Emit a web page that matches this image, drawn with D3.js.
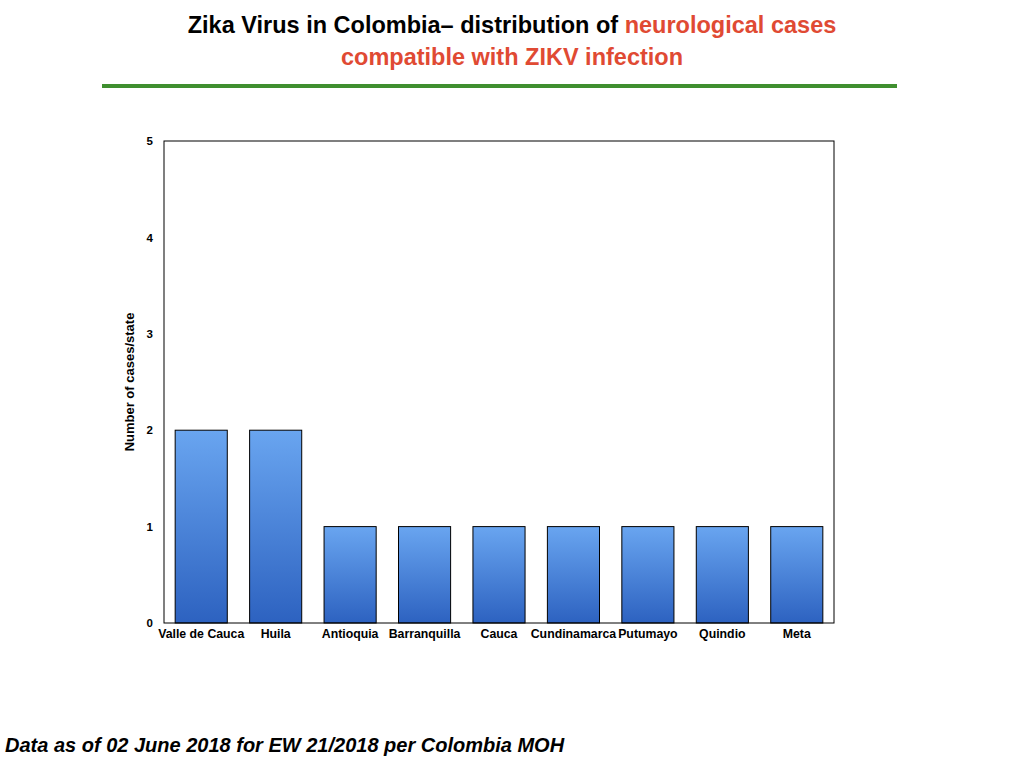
<!DOCTYPE html>
<html>
<head>
<meta charset="utf-8">
<script src="https://cdn.jsdelivr.net/npm/d3@7"></script>
<style>
  body { margin: 0; background: #fff; }
  text { font-family: "Liberation Sans", Arial, sans-serif; }
</style>
</head>
<body>
<script>
const states = [
  "Valle de Cauca", "Huila", "Antioquia", "Barranquilla", "Cauca",
  "Cundinamarca", "Putumayo", "Quindio", "Meta"
];
const cases = [2, 2, 1, 1, 1, 1, 1, 1, 1];
const yTicks = [0, 1, 2, 3, 4, 5];

const baseWidth = 1024,
  baseHeight = 768;
const margin = { top: 141, right: 190, bottom: 145, left: 164 };
const width = baseWidth - margin.left - margin.right;
const height = baseHeight - margin.top - margin.bottom;

const svg = d3
  .select("body")
  .append("svg")
  .attr("width", baseWidth)
  .attr("height", baseHeight);

const defs = svg.append("defs");
const grad = defs
  .append("linearGradient")
  .attr("id", "barGrad")
  .attr("x1", 0).attr("y1", 0)
  .attr("x2", 0).attr("y2", 1);
grad.append("stop").attr("offset", "0%").attr("stop-color", "#69a5f0");
grad.append("stop").attr("offset", "100%").attr("stop-color", "#2d62c0");

// Title
const title = svg
  .append("text")
  .attr("x", baseWidth / 2)
  .attr("text-anchor", "middle")
  .style("font-size", "23.5px")
  .style("font-weight", "bold");
const line1 = title.append("tspan").attr("x", baseWidth / 2).attr("y", 33);
line1.append("tspan").attr("fill", "#000").text("Zika Virus in Colombia\u2013  distribution of ");
line1.append("tspan").attr("fill", "#e04a33").text("neurological cases");
title
  .append("tspan")
  .attr("x", baseWidth / 2)
  .attr("y", 65)
  .attr("fill", "#e04a33")
  .text("compatible with ZIKV infection");

svg
  .append("line")
  .attr("x1", 102)
  .attr("x2", 897)
  .attr("y1", 86)
  .attr("y2", 86)
  .attr("stroke", "#3f8f2f")
  .attr("stroke-width", 4);

const chart = svg
  .append("g")
  .attr("transform", "translate(" + margin.left + "," + margin.top + ")");

const x = d3
  .scaleBand()
  .domain(states)
  .range([0, width])
  .paddingInner(0.3)
  .paddingOuter(0.15);

const y = d3.scaleLinear().domain([0, 5]).range([height, 0]);

// Bars
chart
  .selectAll("rect.bar")
  .data(states)
  .enter()
  .append("rect")
  .attr("class", "bar")
  .attr("x", (d) => x(d))
  .attr("y", (d, i) => y(cases[i]))
  .attr("width", x.bandwidth())
  .attr("height", (d, i) => height - y(cases[i]))
  .attr("fill", "url(#barGrad)")
  .attr("stroke", "#000")
  .attr("stroke-width", 1);

// Frame
chart
  .append("rect")
  .attr("width", width)
  .attr("height", height)
  .attr("fill", "none")
  .attr("stroke", "#000")
  .attr("stroke-width", 1);

const yAxis = chart
  .append("g")
  .call(d3.axisLeft(y).tickValues(yTicks).tickSize(0).tickPadding(11).tickFormat(d3.format("d")));
yAxis.select(".domain").remove();
yAxis.selectAll("text")
  .style("font-size", "11.5px")
  .style("font-weight", "bold")
  .style("font-family", "'Liberation Sans', Arial, sans-serif")
  .attr("fill", "#000");

const xAxis = chart
  .append("g")
  .attr("transform", "translate(0," + height + ")")
  .call(d3.axisBottom(x).tickSize(0).tickPadding(6));
xAxis.select(".domain").remove();
xAxis.selectAll("text")
  .style("font-size", "12.3px")
  .style("font-weight", "bold")
  .style("font-family", "'Liberation Sans', Arial, sans-serif")
  .attr("fill", "#000");

// Y label
svg
  .append("text")
  .attr("transform", "translate(134," + (margin.top + height / 2) + ") rotate(-90)")
  .attr("text-anchor", "middle")
  .style("font-size", "13px")
  .style("font-weight", "bold")
  .text("Number of cases/state");

// Footer
svg
  .append("text")
  .attr("x", 5)
  .attr("y", 752)
  .style("font-size", "20px")
  .style("font-weight", "bold")
  .style("font-style", "italic")
  .text("Data as of 02 June 2018 for EW 21/2018 per Colombia MOH");
</script>
</body>
</html>
